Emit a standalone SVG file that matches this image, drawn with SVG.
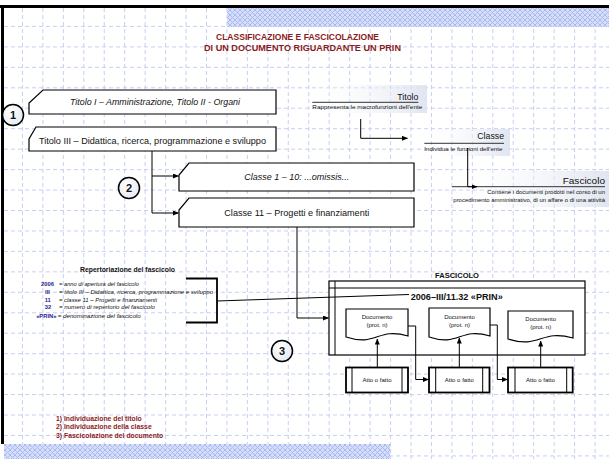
<svg xmlns="http://www.w3.org/2000/svg" width="609" height="459" viewBox="0 0 609 459">
<style>
text{font-family:"Liberation Sans",Arial,sans-serif;fill:#111}
.grid{fill:none;stroke:#bfcbf2;stroke-width:0.9;stroke-dasharray:4 3}
.box{fill:#fff;stroke:#000;stroke-width:1.2}
.thick{fill:#fff;stroke:#000;stroke-width:1.8}
.ln{fill:none;stroke:#000;stroke-width:1}
.ul{fill:none;stroke:#333;stroke-width:1}
.arr{fill:none;stroke:#000;stroke-width:1;marker-end:url(#ah)}
.red{fill:#8b1a1a;font-weight:bold}
.navy{fill:#23238f;font-weight:bold;font-size:5.8px}
.it{font-style:italic}
.circ{fill:url(#cg);stroke:#000;stroke-width:1.5}
.num{font-weight:bold;font-size:11px}
</style>
<defs>
<marker id="ah" markerWidth="6" markerHeight="5" refX="5.5" refY="2.5" orient="auto" markerUnits="userSpaceOnUse">
<path d="M0,0 L6,2.5 L0,5 z" fill="#000"/>
</marker>
<pattern id="hatch" width="5" height="5" patternUnits="userSpaceOnUse">
<rect width="5" height="5" fill="#d5defa"/>
<path d="M0,0 L5,5 M5,0 L0,5" stroke="#aab9ee" stroke-width="1"/>
</pattern>
<linearGradient id="sh" x1="0" y1="0" x2="1" y2="0">
<stop offset="0" stop-color="#ffffff" stop-opacity="0"/>
<stop offset="1" stop-color="#dde2ee" stop-opacity="0.9"/>
</linearGradient>
<radialGradient id="cg" cx="0.4" cy="0.35" r="0.7">
<stop offset="0" stop-color="#ffffff"/>
<stop offset="1" stop-color="#e4e8f2"/>
</radialGradient>
</defs>
<rect width="609" height="459" fill="#fff"/>
<g id="grid">
<path class="grid" d="M22.45,8V459M42.9,8V459M63.35,8V459M83.8,8V459M104.25,8V459M124.7,8V459M145.15,8V459M165.6,8V459M186.05,8V459M206.5,8V459M226.95,8V459M247.4,8V459M267.85,8V459M288.3,8V459M308.75,8V459M329.2,8V459M349.65,8V459M370.1,8V459M390.55,8V459M411,8V459M431.45,8V459M451.9,8V459M472.35,8V459M492.8,8V459M513.25,8V459M533.7,8V459M554.15,8V459M574.6,8V459M595.05,8V459"/>
<path class="grid" d="M4,26.45H609M4,46.9H609M4,67.35H609M4,87.8H609M4,108.25H609M4,128.7H609M4,149.15H609M4,169.6H609M4,190.05H609M4,210.5H609M4,230.95H609M4,251.4H609M4,271.85H609M4,292.3H609M4,312.75H609M4,333.2H609M4,353.65H609M4,374.1H609M4,394.55H609M4,415H609M4,435.45H609M4,455.9H609"/>
</g>
<g id="frame">
<rect x="227" y="8" width="382" height="19" fill="url(#hatch)"/>
<rect x="4" y="444" width="386" height="15" fill="url(#hatch)"/>
<path d="M0,6.5H609M2.5,5V444" fill="none" stroke="#000" stroke-width="3"/>
</g>
<g id="title">
<text class="red" x="216" y="39.5" font-size="8.7" textLength="163" lengthAdjust="spacingAndGlyphs">CLASSIFICAZIONE E FASCICOLAZIONE</text>
<text class="red" x="204" y="51" font-size="8.7" textLength="197" lengthAdjust="spacingAndGlyphs">DI UN DOCUMENTO RIGUARDANTE UN PRIN</text>
</g>
<g id="legend-titolo">
<rect x="305" y="85" width="122" height="28" fill="url(#sh)"/>
<text x="397.3" y="100" font-size="9" textLength="21" lengthAdjust="spacingAndGlyphs">Titolo</text>
<path class="ul" d="M312.3,102.3H418.3"/>
<text x="312.3" y="108.5" font-size="5.3" textLength="110" lengthAdjust="spacingAndGlyphs">Rappresenta le macrofunzioni dell'ente</text>
</g>
<g id="legend-classe">
<rect x="418" y="129" width="92" height="27" fill="url(#sh)"/>
<text x="477.3" y="139" font-size="9" textLength="26.7" lengthAdjust="spacingAndGlyphs">Classe</text>
<path class="ul" d="M424.3,143.3H504"/>
<text x="424.3" y="151" font-size="5.3" textLength="78" lengthAdjust="spacingAndGlyphs">Individua le funzioni dell'ente</text>
</g>
<g id="legend-fascicolo">
<rect x="450" y="171" width="159" height="36" fill="url(#sh)"/>
<text x="562.7" y="184" font-size="9.5" textLength="42.3" lengthAdjust="spacingAndGlyphs">Fascicolo</text>
<path class="ul" d="M452,186.7H605"/>
<text x="487.3" y="193.5" font-size="5.4" textLength="117.7" lengthAdjust="spacingAndGlyphs">Contiene i documenti prodotti nel corso di un</text>
<text x="453.3" y="201.8" font-size="5.4" textLength="151.7" lengthAdjust="spacingAndGlyphs">procedimento amministrativo, di un affare o di una attività</text>
</g>
<g id="step1">
<circle class="circ" cx="13" cy="115" r="10.5"/>
<text class="num" x="13" y="119" text-anchor="middle">1</text>
</g>
<g id="titolo-1-2">
<polygon class="box" points="43,90 276,90 276,114 29,114 29,103"/>
<text class="it" x="70" y="105" font-size="9" textLength="170" lengthAdjust="spacingAndGlyphs">Titolo I – Amministrazione,  Titolo II - Organi</text>
</g>
<g id="titolo-3">
<polygon class="box" points="36,127 276,127 276,151 29,151 29,139"/>
<text x="39" y="143.5" font-size="9" textLength="227" lengthAdjust="spacingAndGlyphs">Titolo III – Didattica, ricerca, programmazione e sviluppo</text>
</g>
<g id="step2">
<circle class="circ" cx="129" cy="188" r="10.5"/>
<text class="num" x="129" y="192" text-anchor="middle">2</text>
</g>
<g id="classe-1-10">
<polygon class="box" points="189,163 414,163 414,191 179,191 179,175"/>
<text class="it" x="244.3" y="180" font-size="9" textLength="105" lengthAdjust="spacingAndGlyphs">Classe 1 – 10: ...omissis...</text>
</g>
<g id="classe-11">
<polygon class="box" points="189,198 414,198 414,227 179,227 179,210"/>
<text x="224.3" y="216" font-size="9" textLength="145" lengthAdjust="spacingAndGlyphs">Classe 11 – Progetti e finanziamenti</text>
</g>
<g id="repertoriazione">
<text x="80" y="272" font-size="6.5" font-weight="bold" textLength="95" lengthAdjust="spacingAndGlyphs">Repertoriazione del fascicolo</text>
<text class="navy" x="47.5" y="285.7" text-anchor="middle">2006</text>
<text class="it" x="59" y="285.7" font-size="5.8" textLength="80" lengthAdjust="spacingAndGlyphs">= anno di apertura del fascicolo</text>
<text class="navy" x="47.5" y="294" text-anchor="middle">III</text>
<text class="it" x="59" y="294" font-size="5.8" textLength="154" lengthAdjust="spacingAndGlyphs">= titolo III – Didattica, ricerca, programmazione e sviluppo</text>
<text class="navy" x="47.8" y="301.7" text-anchor="middle">11</text>
<text class="it" x="59" y="301.7" font-size="5.8" textLength="98" lengthAdjust="spacingAndGlyphs">= classe 11 – Progetti e finanziamenti</text>
<text class="navy" x="48" y="309.4" text-anchor="middle">32</text>
<text class="it" x="59" y="309.4" font-size="5.8" textLength="96" lengthAdjust="spacingAndGlyphs">= numero di repertorio del fascicolo</text>
<text class="navy" x="46.3" y="317.7" text-anchor="middle">«PRIN»</text>
<text class="it" x="57.7" y="317.7" font-size="5.8" textLength="83" lengthAdjust="spacingAndGlyphs">= denominazione del fascicolo</text>
<path d="M186,278.5H217V322.5H186" fill="none" stroke="#000" stroke-width="1.8"/>
</g>
<g id="step3">
<circle class="circ" cx="282" cy="351" r="10.5"/>
<text class="num" x="282" y="355" text-anchor="middle">3</text>
</g>
<g id="fascicolo">
<text x="435" y="278" font-size="7" font-weight="bold" textLength="44" lengthAdjust="spacingAndGlyphs">FASCICOLO</text>
<rect class="box" x="329" y="281" width="256" height="74"/>
<path class="ln" d="M329,288H585M335,281V355" stroke-width="1.2"/>
<text x="410.7" y="300" font-size="9.2" font-weight="bold" textLength="92" lengthAdjust="spacingAndGlyphs">2006–III/11.32 «PRIN»</text>
</g>
<g id="documento-1">
<path class="box" d="M346,309H408V336C377,327 377,347 346,337Z"/>
<text x="377" y="319.3" font-size="6" text-anchor="middle">Documento</text>
<text x="377" y="327" font-size="6" text-anchor="middle">(prot. n)</text>
</g>
<g id="documento-2">
<path class="box" d="M429,308H490V336C459.5,327 459.5,347 429,337Z"/>
<text x="459.5" y="318.5" font-size="6" text-anchor="middle">Documento</text>
<text x="459.5" y="326.5" font-size="6" text-anchor="middle">(prot. n)</text>
</g>
<g id="documento-3">
<path class="box" d="M508,311H573V338C540.5,329 540.5,349 508,339Z"/>
<text x="540.7" y="320.5" font-size="6" text-anchor="middle">Documento</text>
<text x="540.7" y="328.5" font-size="6" text-anchor="middle">(prot. n)</text>
</g>
<g id="atto-1">
<rect class="thick" x="346" y="367.5" width="62" height="25"/>
<path class="ln" d="M352,367.5V392.5M402,367.5V392.5" stroke-width="1.5"/>
<text x="377" y="381.5" font-size="6" text-anchor="middle">Atto o fatto</text>
</g>
<g id="atto-2">
<rect class="thick" x="429" y="367.5" width="60.5" height="25"/>
<path class="ln" d="M435.7,367.5V392.5M482.7,367.5V392.5" stroke-width="1.5"/>
<text x="459.3" y="381.5" font-size="6" text-anchor="middle">Atto o fatto</text>
</g>
<g id="atto-3">
<rect class="thick" x="508" y="367.5" width="64.7" height="25"/>
<path class="ln" d="M515,367.5V392.5M566.7,367.5V392.5" stroke-width="1.5"/>
<text x="540.5" y="381.5" font-size="6" text-anchor="middle">Atto o fatto</text>
</g>
<g id="connectors">
<path class="ln" d="M152,151V213"/>
<path class="arr" d="M152,176H178.5"/>
<path class="arr" d="M152,213H178.5"/>
<path class="arr" d="M297,227V318H328.5"/>
<path class="ln" d="M217,301L409,294.5"/>
<path class="arr" d="M408,326H415.7V379.5H428.5"/>
<path class="arr" d="M490,325H497.3V379.5H507.5"/>
<path class="arr" d="M377.3,367.5V339"/>
<path class="arr" d="M459.3,367.5V338"/>
<path class="arr" d="M540.7,367.5V341"/>
<path class="arr" d="M360.7,119V138.3H407.5"/>
<path class="arr" d="M467.7,148V186.7H477"/>
</g>
<g id="steps-legend">
<text class="red" x="56" y="420.7" font-size="6.3" textLength="85.7" lengthAdjust="spacingAndGlyphs">1) Individuazione del titolo</text>
<text class="red" x="56" y="429.3" font-size="6.3" textLength="95.7" lengthAdjust="spacingAndGlyphs">2) Individuazione della classe</text>
<text class="red" x="56" y="438.3" font-size="6.3" textLength="107.3" lengthAdjust="spacingAndGlyphs">3) Fascicolazione del documento</text>
</g>
</svg>
